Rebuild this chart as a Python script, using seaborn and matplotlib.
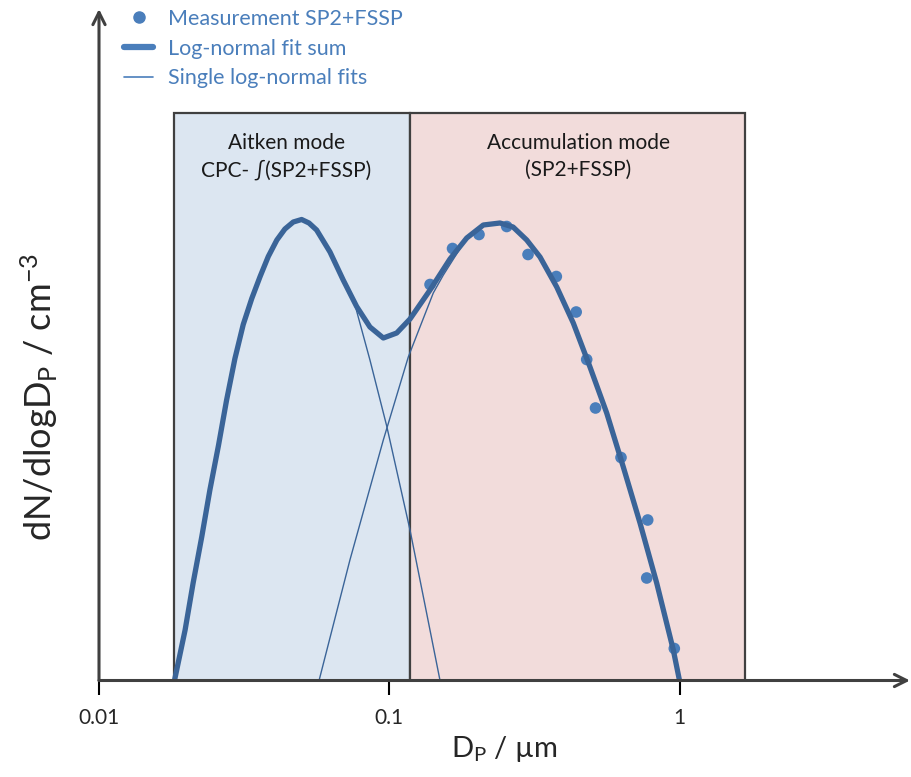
import matplotlib
matplotlib.use("Agg")
import matplotlib.pyplot as plt
import seaborn as sns
import pandas as pd
from matplotlib.patches import Rectangle
from matplotlib.lines import Line2D

# ---- data (D in um, y = relative height) ----
x_sum = [0.0182, 0.0198, 0.0211, 0.0226, 0.0241, 0.0258, 0.0275, 0.0294, 0.0314, 0.0336,
         0.0359, 0.0383, 0.0410, 0.0437, 0.0467, 0.0499, 0.0529, 0.0562, 0.0625, 0.0694,
         0.0772, 0.0858, 0.0954, 0.1061, 0.1179, 0.1382, 0.1619, 0.1849, 0.2109, 0.2407,
         0.2670, 0.2976, 0.3307, 0.3776, 0.4306, 0.4916, 0.5613, 0.6403, 0.7311, 0.8345,
         0.9521, 1.0]
y_sum = [0, 50.5, 97.5, 143.8, 190.5, 235, 280, 322, 356, 382,
         404, 424, 440.5, 451.5, 458.5, 461, 457.5, 450.5, 428.5, 400.5,
         374, 353.5, 342.5, 347.5, 361.5, 390.5, 421.5, 442.5, 455.5, 457.5,
         453.5, 440.5, 423.5, 393.5, 357.5, 313.5, 267.5, 213.5, 157.5, 97.5,
         30.5, 0]

x_aitken = [0.0182, 0.0198, 0.0211, 0.0226, 0.0241, 0.0258, 0.0275, 0.0294, 0.0314, 0.0336,
            0.0359, 0.0383, 0.0410, 0.0437, 0.0467, 0.0499, 0.0529, 0.0562, 0.0625, 0.0694,
            0.0762, 0.0858, 0.0980, 0.1179, 0.1328, 0.1496]
y_aitken = [0, 50.5, 97.5, 143.8, 190.5, 235, 280, 322, 356, 382,
            404, 424, 440.5, 451.5, 458.5, 461, 457.5, 450.5, 428.5, 399,
            375.5, 320.5, 254.5, 150.5, 75.5, 0]

x_accum = [0.0573, 0.0732, 0.0954, 0.1163, 0.1276, 0.1418, 0.1536, 0.1849, 0.2109, 0.2407,
           0.2670, 0.2976, 0.3307, 0.3776, 0.4306, 0.4916, 0.5613, 0.6403, 0.7311, 0.8345,
           0.9521, 1.0]
y_accum = [0, 120.5, 240.5, 323.5, 353.5, 387.5, 405.5, 442.5, 455.5, 457.5,
           453.5, 440.5, 423.5, 393.5, 357.5, 313.5, 267.5, 213.5, 157.5, 97.5,
           30.5, 0]

x_meas = [0.1382, 0.1652, 0.2038, 0.2539, 0.3007, 0.3764, 0.4406, 0.4789, 0.5136,
          0.6287, 0.7771, 0.7710, 0.9596]
y_meas = [396, 432, 446, 454, 426, 404, 368.5, 321, 272.5, 223, 160.5, 102.5, 32]

aitken_range = [0.0182, 0.1179]
accum_range = [0.1179, 1.682]
box_top = 567.5

tick_values = [0.01, 0.1, 1]
tick_labels = ["0.01", "0.1", "1"]

legend_labels = ["Measurement SP2+FSSP", "Log-normal fit sum", "Single log-normal fits"]

# ---- style ----
sns.set_theme(style="white")
plt.rcParams["font.family"] = ["Lato", "DejaVu Sans"]
plt.rcParams["mathtext.fontset"] = "custom"
plt.rcParams["mathtext.rm"] = "Lato"
plt.rcParams["mathtext.it"] = "Lato"

curve_col = "#3A6498"
dot_col = "#4A7EBB"
axis_col = "#404040"

fig = plt.figure(figsize=(9.11, 7.77), dpi=100)
W, H = 911, 777
ax = fig.add_axes([99 / W, (H - 680.5) / H, (910 - 99) / W, (680.5 - 9) / H])
ax.set_xscale("log")
ax.set_xlim(0.01, 6.225)
ax.set_ylim(0, 671.5)

# mode boxes
for rng, fc in [(aitken_range, "#DCE6F1"), (accum_range, "#F2DCDB")]:
    ax.add_patch(Rectangle((rng[0], 0), rng[1] - rng[0], box_top, facecolor=fc,
                           edgecolor=axis_col, linewidth=1.6, zorder=1))

df_sum = pd.DataFrame({"D": x_sum, "y": y_sum})
df_ait = pd.DataFrame({"D": x_aitken, "y": y_aitken})
df_acc = pd.DataFrame({"D": x_accum, "y": y_accum})
df_meas = pd.DataFrame({"D": x_meas, "y": y_meas})

sns.lineplot(data=df_ait, x="D", y="y", ax=ax, color=curve_col, lw=1.0, estimator=None, zorder=3)
sns.lineplot(data=df_acc, x="D", y="y", ax=ax, color=curve_col, lw=1.0, estimator=None, zorder=3)
sns.scatterplot(data=df_meas, x="D", y="y", ax=ax, color=dot_col, s=70, edgecolor="none", zorder=4)
sns.lineplot(data=df_sum, x="D", y="y", ax=ax, color=curve_col, lw=3.8, estimator=None, zorder=5,
             solid_capstyle="butt", solid_joinstyle="round")

# mode text
tkw = dict(ha="center", va="center", fontsize=15, color="#1a1a1a", zorder=6)
ax.text(0.0441, 537.8, "Aitken mode", **tkw)
ax.text(0.0441, 510.5, "CPC- \u222B(SP2+FSSP)", **tkw)
ax.text(0.447, 537.8, "Accumulation mode", **tkw)
ax.text(0.447, 510.5, "(SP2+FSSP)", **tkw)

# axes with arrows
for s in ax.spines.values():
    s.set_visible(False)
ax.annotate("", xy=(1.0, 0), xytext=(0, 0), xycoords="axes fraction",
            arrowprops=dict(arrowstyle="->", color=axis_col, lw=2.2, mutation_scale=22, shrinkA=0, shrinkB=0),
            annotation_clip=False, zorder=7)
ax.annotate("", xy=(0, 1.0), xytext=(0, 0), xycoords="axes fraction",
            arrowprops=dict(arrowstyle="->", color=axis_col, lw=2.2, mutation_scale=22, shrinkA=0, shrinkB=0),
            annotation_clip=False, zorder=7)

ax.set_xticks(tick_values)
ax.set_xticklabels(tick_labels)
ax.xaxis.set_minor_locator(matplotlib.ticker.NullLocator())
ax.tick_params(axis="x", which="major", direction="out", length=10, width=1.5, color="#000000",
               labelsize=15, pad=10, bottom=True)
ax.set_yticks([])
ax.set_xlabel("D$_\\mathrm{P}$ / \u00b5m", fontsize=21, labelpad=4)
ax.set_ylabel("dN/dlogD$_\\mathrm{P}$ / cm$^{\\mathrm{-3}}$", fontsize=26)
ax.yaxis.set_label_coords(-0.048, 0.422)
ax.grid(False)

# legend
handles = [Line2D([], [], marker="o", ls="", color=dot_col, ms=8),
           Line2D([], [], color=dot_col, lw=4.5),
           Line2D([], [], color=dot_col, lw=1.2)]
leg = fig.legend(handles, legend_labels, loc="upper left", bbox_to_anchor=(124 / W, 1 - 9 / H),
                 frameon=False, fontsize=15.5, handlelength=1.35, handletextpad=0.7,
                 labelspacing=0.45, borderpad=0, borderaxespad=0, labelcolor=dot_col)

fig.savefig("out.png", dpi=100)
